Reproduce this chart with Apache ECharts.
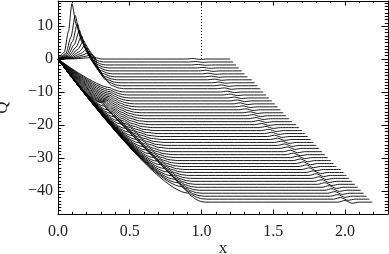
<!DOCTYPE html>
<html><head><meta charset="utf-8">
<script src="https://cdn.jsdelivr.net/npm/echarts@6/dist/echarts.min.js"></script>
<style>html,body{margin:0;padding:0;background:#fff}#c{width:389px;height:254px}</style>
</head><body><div id="c"></div>
<script>
// ---- axis ticks ----
const xTicks = [0, 0.5, 1.0, 1.5, 2.0];
const xMinor = [0.1,0.2,0.3,0.4,0.6,0.7,0.8,0.9,1.1,1.2,1.3,1.4,1.6,1.7,1.8,1.9,2.1,2.2];
const yTicks = [-40, -30, -20, -10, 0, 10];
const yMinor = [-46,-45,-44,-43,-42,-41,-39,-38,-37,-36,-35,-34,-33,-32,-31,-29,-28,-27,-26,-25,-24,-23,-22,-21,-19,-18,-17,-16,-15,-14,-13,-12,-11,-9,-8,-7,-6,-5,-4,-3,-2,-1,1,2,3,4,5,6,7,8,9,11,12,13,14,15,16,17];

// ---- profiles ----
const levels = [0,-0.9,-1.8,-2.7,-3.6,-4.5,-5.4,-6.3,-7.2,-8.1,-9.0,-10.0,-10.9,-11.8,-12.7,-13.6,-14.5,-15.4,-16.3,-17.2,-18.1,-19.0,-19.9,-20.8,-21.7,-22.6,-23.5,-24.4,-25.3,-26.2,-27.1,-28.1,-29.0,-29.9,-30.8,-31.7,-32.6,-33.5,-34.4,-35.3,-36.2,-37.1,-38.0,-38.9,-39.8,-40.7,-41.6,-42.5,-43.4];
// x where each profile becomes flat
const kneeX = [0.300,0.316,0.331,0.347,0.362,0.378,0.394,0.409,0.425,0.441,0.456,0.472,0.487,0.503,0.519,0.534,0.550,0.566,0.581,0.597,0.612,0.628,0.644,0.659,0.675,0.691,0.706,0.722,0.737,0.753,0.769,0.784,0.800,0.816,0.831,0.847,0.862,0.878,0.894,0.909,0.925,0.941,0.956,0.972,0.987,1.003,1.019,1.034,1.030];
// slope of the straight part leaving the origin (profiles 11..48)
const raySlope = [-24.0,-25.6,-27.2,-28.8,-30.4,-32.0,-33.6,-35.2,-36.8,-38.4,-40.0,-41.6,-43.2,-44.8,-44.8,-44.8,-44.8,-44.8,-44.8,-44.8,-44.8,-44.8,-44.8,-44.8,-44.8,-44.8,-44.8,-44.8,-44.8,-44.8,-44.8,-44.8,-44.8,-44.8,-44.8,-44.8,-44.8,-44.8];
const rayFirst = 11;
const endX = [1.20,1.22,1.24,1.26,1.28,1.30,1.32,1.35,1.37,1.39,1.41,1.43,1.45,1.47,1.49,1.51,1.53,1.55,1.57,1.59,1.61,1.63,1.66,1.68,1.70,1.72,1.74,1.76,1.78,1.80,1.82,1.84,1.86,1.88,1.90,1.92,1.94,1.97,1.99,2.01,2.03,2.05,2.07,2.09,2.11,2.13,2.15,2.17,2.19];
const wiggleX = [0.94,0.96,0.98,1.01,1.03,1.05,1.07,1.09,1.12,1.14,1.16,1.18,1.20,1.23,1.25,1.27,1.29,1.31,1.34,1.36,1.38,1.40,1.42,1.45,1.47,1.49,1.51,1.53,1.56,1.58,1.60,1.62,1.64,1.67,1.69,1.71,1.73,1.75,1.78,1.80,1.82,1.84,1.86,1.89,1.91,1.93,1.95,1.97,2.00];
const wiggleAmp = [0.15,0.15,0.15,0.15,0.2,0.2,0.2,0.2,0.2,0.25,0.25,0.25,0.25,0.25,0.3,0.3,0.3,0.3,0.3,0.35,0.35,0.35,0.35,0.35,0.4,0.4,0.4,0.4,0.4,0.45,0.45,0.45,0.45,0.45,0.5,0.5,0.5,0.5,0.5,0.5,0.5,0.5,0.5,0.5,0.5,0.5,0.5,0.5,0.5];
const peakX = [0.097,0.12,0.135,0.15,0.165,0.18,0.195,0.21,0.225,0.24,0.255];
const peakQ = [16.8,13.2,10.7,8.7,7.0,5.6,4.4,3.3,2.3,1.4,0.6];
const markX = [1.0, 1.0];
const markQ = [0, 17.6];

function bez(S, C, K, pts){
  for (const t of [0.2, 0.4, 0.6, 0.8]){
    const a = (1-t)*(1-t), b = 2*t*(1-t), e = t*t;
    pts.push([a*S[0]+b*C[0]+e*K[0], a*S[1]+b*C[1]+e*K[1]]);
  }
}
function buildCurve(i){
  const L = levels[i], k = kneeX[i];
  const pts = [[0,0]];
  if (i < rayFirst){
    const px = peakX[i], P = peakQ[i];
    pts.push([px*0.45, P*0.12],[px*0.75, P*0.5],[px, P]);
    const d = k - px;
    pts.push([px+d*0.15, L+(P-L)*0.62],[px+d*0.35, L+(P-L)*0.3],[px+d*0.6, L+(P-L)*0.1],[px+d*0.85, L+(P-L)*0.02]);
  } else {
    const m = raySlope[i-rayFirst];
    const c = L / m;                       // ray meets the flat level here
    const sx = Math.max(c - (k - c), 0);   // start of the bend
    const S = [sx, m*sx];
    if (sx > 0) pts.push(S);
    bez(S, [c, L], [k, L], pts);
  }
  pts.push([k, L]);
  const w = wiggleX[i], a = wiggleAmp[i];
  pts.push([w-0.05, L],[w, L+a],[w+0.05, L-a*0.7],[w+0.1, L],[endX[i], L]);
  return pts;
}

const series = [];
for (let i = 0; i < levels.length; i++){
  series.push({type:'line', data: buildCurve(i), symbol:'none', smooth:0.25, smoothMonotone:'x', silent:true,
    lineStyle:{color:'#000', width:0.9}, animation:false});
}
series.push({type:'line', data: markX.map((x,j)=>[x, markQ[j]]), symbol:'none', silent:true,
  lineStyle:{color:'#000', width:1, type:[1,2]}, animation:false});

const font = 'Liberation Serif';
const frame = {show:true, onZero:false, lineStyle:{color:'#000', width:1}};
const noLine = {show:false, onZero:false};
function xAx(pos, major, label){
  return {type:'value', min:0, max:2.3, position:pos,
    axisLine: major ? frame : noLine,
    axisTick:{show:true, inside:true, length: major?4.5:2.2, customValues: major?xTicks:xMinor, lineStyle:{color:'#000'}},
    axisLabel: label ? {show:true, customValues:xTicks, formatter:v=>v.toFixed(1), margin:10, fontFamily:font, fontSize:16, color:'#222'} : {show:false},
    splitLine:{show:false},
    name: label ? 'x' : '', nameLocation:'middle', nameGap:26, nameMoveOverlap:false, nameTextStyle:{fontFamily:font, fontSize:17, color:'#222'}};
}
function yAx(pos, major, label){
  return {type:'value', min:-47, max:17.6, position:pos,
    axisLine: major ? frame : noLine,
    axisTick:{show:true, inside:true, length: major?6.5:3.2, customValues: major?yTicks:yMinor, lineStyle:{color:'#000'}},
    axisLabel: label ? {show:true, customValues:yTicks, formatter:v=> v<0 ? '\u2212'+(-v) : String(v), margin:5, fontFamily:font, fontSize:16, color:'#222'} : {show:false},
    splitLine:{show:false},
    name: label ? 'Q' : '', nameLocation:'middle', nameGap:47, nameMoveOverlap:false, nameTextStyle:{fontFamily:font, fontSize:17, color:'#222'}};
}

const chart = echarts.init(document.getElementById('c'), null, {renderer:'canvas'});
chart.setOption({
  animation:false,
  backgroundColor:'#fff',
  grid:{left:58, right:1, top:1, bottom:40, outerBoundsMode:'none', containLabel:false},
  xAxis:[xAx('bottom',true,true), xAx('bottom',false,false), xAx('top',true,false), xAx('top',false,false)],
  yAxis:[yAx('left',true,true), yAx('left',false,false), yAx('right',true,false), yAx('right',false,false)],
  series: series
});
</script></body></html>
